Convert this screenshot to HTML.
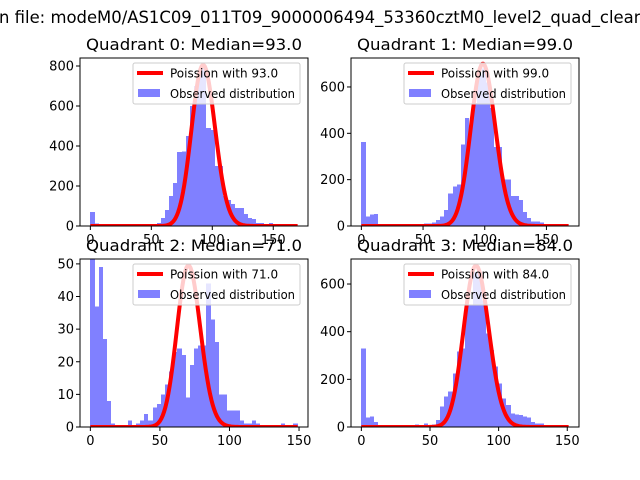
<!DOCTYPE html>
<html><head><meta charset="utf-8"><style>
body{margin:0;background:#fff;}
svg{display:block;font-family:"DejaVu Sans","Liberation Sans",sans-serif;}
</style></head><body>
<svg id="fig" width="640" height="480" viewBox="0 0 640 480">
<text x="-1" y="23" font-size="16.45" fill="#000">n file: modeM0/AS1C09_011T09_9000006494_53360cztM0_level2_quad_clean.evt</text>
</svg>
<script>
// ---- data ----
const q0Counts=[70,12,10,3,2,2,2,2,2,2,2,2,2,2,5,8,15,40,80,150,215,370,372,450,600,700,760,800,490,480,300,300,150,130,110,90,90,60,40,35,15,15,10,15,5,5,3,3,2,2];
const q1Counts=[362,40,50,52,3,3,3,3,3,3,3,3,3,3,3,10,10,15,25,40,70,140,170,180,352,465,430,530,650,680,620,510,342,340,200,200,130,130,112,60,35,20,20,15,5,8,3,2,2,2];
const q2Counts=[52,37,49,27,8,1,0,0,0,2,0,1,2,4,2,6,7,10,13,17,23,24,22,9,19,24,25,25,44,33,26,10,10,5,5,5,2,1,1,2,1,0,0,0,0,0,1,0,0,1];
const q3Counts=[330,40,45,20,3,3,3,3,3,3,3,3,3,10,5,15,8,10,30,85,127,150,225,316,330,512,512,650,650,530,393,323,253,183,120,92,57,52,50,45,40,20,15,15,8,5,2,2,2,2];
const medians=[93.0,99.0,71.0,84.0];
const curvePeaks=[805,700,49.5,677];
const dataMax=[170,168,149,151];
const yMaxes=[840,725,51.5,705];
const xTicks=[0,50,100,150];
const yTicks0=[0,200,400,600,800];
const yTicks1=[0,200,400,600];
const yTicks2=[0,10,20,30,40,50];
const yTicks3=[0,200,400,600];
// ---- layout ----
const NS="http://www.w3.org/2000/svg";
const svg=document.getElementById('fig');
function mk(tag,attrs,parent){const e=document.createElementNS(NS,tag);for(const k in attrs)e.setAttribute(k,attrs[k]);(parent||svg).appendChild(e);return e;}
const panels=[
 {x0:80,x1:308,y0:58,y1:226,counts:q0Counts,yt:yTicks0},
 {x0:351,x1:579,y0:58,y1:226,counts:q1Counts,yt:yTicks1},
 {x0:80,x1:308,y0:259,y1:427,counts:q2Counts,yt:yTicks2},
 {x0:351,x1:579,y0:259,y1:427,counts:q3Counts,yt:yTicks3}];
function logFact(k){let s=0;for(let i=2;i<=k;i++)s+=Math.log(i);return s;}
function pois(k,l){return Math.exp(k*Math.log(l)-l-logFact(k));}
panels.forEach((p,pi)=>{
 const g=mk('g',{});
 
 
 const xm=dataMax[pi], span=xm*1.1, xlo=-xm*0.05;
 const X=v=>p.x0+(v-xlo)/span*(p.x1-p.x0);
 const Y=v=>p.y1-v/yMaxes[pi]*(p.y1-p.y0);
 const clip=mk('clipPath',{id:'c'+pi},g);
 mk('rect',{x:p.x0,y:p.y0,width:p.x1-p.x0,height:p.y1-p.y0},clip);
 const plot=mk('g',{'clip-path':'url(#c'+pi+')'},g);
 const bw=xm/p.counts.length;
 p.counts.forEach((c,i)=>{
  if(c<=0)return;
  const xa=Math.round(X(i*bw)), xb=Math.round(X((i+1)*bw));
  const r=mk('rect',{x:xa,y:Y(c),width:xb-xa,height:Y(0)-Y(c),fill:'#8080ff','shape-rendering':'crispEdges'},plot);
  
  
 });
 const lam=medians[pi], pk=pois(Math.floor(lam),lam);
 let d='';
 for(let k=0;k<=Math.round(xm);k++){d+=(k?'L':'M')+X(k).toFixed(2)+','+Y(curvePeaks[pi]*pois(k,lam)/pk).toFixed(2);}
 const ln=mk('path',{d:d,fill:'none',stroke:'#ff0000','stroke-width':4,'stroke-linejoin':'round'},plot);
 
 
 const fr=mk('rect',{x:p.x0,y:p.y0,width:p.x1-p.x0,height:p.y1-p.y0,fill:'none',stroke:'#000','stroke-width':1},g);
 
 
 xTicks.forEach(t=>{
  mk('line',{x1:X(t),x2:X(t),y1:p.y1,y2:p.y1+4,stroke:'#000'},g);
  const tx=mk('text',{x:X(t),y:p.y1+18,'font-size':13,'text-anchor':'middle'},g);
  tx.textContent=t;
  
  
 });
 p.yt.forEach(t=>{
  mk('line',{x1:p.x0-4,x2:p.x0,y1:Y(t),y2:Y(t),stroke:'#000'},g);
  const tx=mk('text',{x:p.x0-6,y:Y(t)+4.5,'font-size':13,'text-anchor':'end'},g);
  tx.textContent=t;
  
  
 });
 const ti=mk('text',{x:(p.x0+p.x1)/2,y:p.y0-8,'font-size':16,'text-anchor':'middle',textLength:216,lengthAdjust:'spacingAndGlyphs'},g);
 ti.textContent='Quadrant '+pi+': Median='+lam.toFixed(1);
 
 
 // legend
 const lg=mk('g',{},g);
 
 
 const lx=p.x1-175, ly=p.y0+5;
 mk('rect',{x:lx,y:ly,width:167,height:41,rx:2,fill:'#fff','fill-opacity':0.8,stroke:'#cccccc','stroke-width':1},lg);
 mk('line',{x1:lx+4,x2:lx+30,y1:ly+10,y2:ly+10,stroke:'#ff0000','stroke-width':4},lg);
 const t1=mk('text',{x:lx+37,y:ly+14.5,'font-size':12},lg);
 t1.textContent='Poission with '+lam.toFixed(1);
 
 
 mk('rect',{x:lx+5,y:ly+26,width:22,height:8,fill:'#8080ff'},lg);
 const t2=mk('text',{x:lx+37,y:ly+35,'font-size':12,textLength:125,lengthAdjust:'spacingAndGlyphs'},lg);
 t2.textContent='Observed distribution';
 
 
});
</script>
</body></html>
